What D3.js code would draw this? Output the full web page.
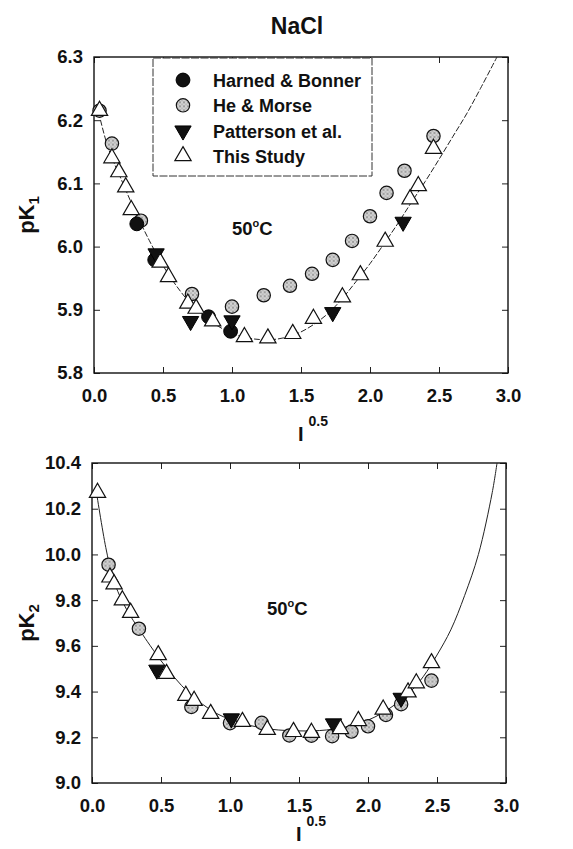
<!DOCTYPE html>
<html><head><meta charset="utf-8">
<script src="https://cdn.jsdelivr.net/npm/d3@7/dist/d3.min.js"></script>
<style>
html,body{margin:0;padding:0;background:#fff;}
text{font-family:"Liberation Sans",Arial,Helvetica,sans-serif;font-weight:bold;fill:#111;}
</style></head>
<body>
<script>
// ---------- data ----------
const xTicks = [0.0, 0.5, 1.0, 1.5, 2.0, 2.5, 3.0];
const yTicks1 = [5.8, 5.9, 6.0, 6.1, 6.2, 6.3];
const yTicks2 = [9.0, 9.2, 9.4, 9.6, 9.8, 10.0, 10.2, 10.4];
const legendLabels = ["Harned & Bonner", "He & Morse", "Patterson et al.", "This Study"];

// pK1 panel
const pk1HarnedBonner = [[0.31,6.036],[0.44,5.979],[0.83,5.889],[0.99,5.866]];
const pk1HeMorse = [[0.04,6.215],[0.13,6.163],[0.34,6.041],[0.71,5.925],[1.0,5.905],[1.23,5.923],[1.42,5.938],[1.58,5.957],[1.73,5.979],[1.87,6.009],[2.0,6.048],[2.12,6.085],[2.25,6.12],[2.46,6.175]];
const pk1Patterson = [[0.45,5.989],[0.70,5.882],[1.0,5.883],[1.73,5.896],[2.24,6.039]];
const pk1ThisStudy = [[0.04,6.215],[0.13,6.14],[0.18,6.118],[0.23,6.094],[0.27,6.058],[0.48,5.975],[0.54,5.952],[0.68,5.91],[0.74,5.902],[0.86,5.882],[1.09,5.857],[1.26,5.855],[1.44,5.862],[1.59,5.886],[1.80,5.92],[1.93,5.955],[2.11,6.008],[2.29,6.075],[2.35,6.096],[2.46,6.155]];
const pk1Fit = [[0.02,6.225],[0.1,6.158],[0.2,6.105],[0.3,6.055],[0.4,6.01],[0.5,5.97],[0.6,5.937],[0.7,5.91],[0.8,5.89],[0.9,5.874],[1.0,5.863],[1.1,5.856],[1.2,5.853],[1.3,5.853],[1.4,5.857],[1.5,5.865],[1.6,5.878],[1.7,5.895],[1.8,5.918],[1.9,5.945],[2.0,5.973],[2.1,6.004],[2.2,6.036],[2.3,6.07],[2.4,6.103],[2.5,6.138],[2.6,6.174],[2.7,6.21],[2.8,6.25],[2.92,6.3]];

// pK2 panel
const pk2HeMorse = [[0.12,9.955],[0.34,9.675],[0.72,9.333],[1.0,9.262],[1.23,9.263],[1.43,9.208],[1.59,9.207],[1.74,9.205],[1.88,9.225],[2.0,9.248],[2.13,9.298],[2.24,9.345],[2.46,9.448]];
const pk2Patterson = [[0.47,9.495],[1.01,9.282],[1.75,9.26],[2.24,9.372]];
const pk2ThisStudy = [[0.04,10.27],[0.13,9.9],[0.16,9.87],[0.22,9.8],[0.28,9.745],[0.48,9.56],[0.54,9.478],[0.68,9.382],[0.74,9.36],[0.86,9.303],[1.09,9.268],[1.27,9.233],[1.46,9.224],[1.59,9.22],[1.80,9.237],[1.93,9.272],[2.11,9.322],[2.29,9.397],[2.35,9.437],[2.46,9.525]];
const pk2Fit = [[0.03,10.28],[0.1,10.03],[0.15,9.9],[0.2,9.82],[0.25,9.76],[0.3,9.71],[0.35,9.665],[0.4,9.62],[0.5,9.535],[0.6,9.46],[0.7,9.395],[0.8,9.345],[0.9,9.305],[1.0,9.278],[1.1,9.258],[1.2,9.245],[1.3,9.235],[1.4,9.23],[1.5,9.228],[1.6,9.228],[1.7,9.232],[1.8,9.24],[1.9,9.255],[2.0,9.275],[2.1,9.305],[2.2,9.345],[2.3,9.395],[2.4,9.465],[2.5,9.56],[2.6,9.67],[2.7,9.82],[2.8,10.0],[2.9,10.27],[2.935,10.4]];

// ---------- drawing ----------
const W = 573, H = 849;
const svg = d3.select("body").append("svg").attr("width", W).attr("height", H);

const defs = svg.append("defs");
const pat = defs.append("pattern").attr("id","stip").attr("patternUnits","userSpaceOnUse")
  .attr("width",4).attr("height",4);
pat.append("rect").attr("width",4).attr("height",4).attr("fill","#d2d2d2");
pat.append("circle").attr("cx",1).attr("cy",1).attr("r",0.7).attr("fill","#444");
pat.append("circle").attr("cx",3).attr("cy",3).attr("r",0.6).attr("fill","#777");

const triUp = d3.symbol().type(d3.symbolTriangle).size(115)();
const fmt = d3.format(".1f");

function drawMarkers(g, data, kind, x, y){
  const sel = g.append("g").selectAll("path").data(data).join("path")
    .attr("transform", d => `translate(${x(d[0])},${y(d[1])})`);
  if (kind === "hb") {
    sel.attr("d", d3.symbol().type(d3.symbolCircle).size(150)()).attr("fill","#111").attr("stroke","#000").attr("stroke-width",1);
  } else if (kind === "hm") {
    sel.attr("d", d3.symbol().type(d3.symbolCircle).size(140)()).attr("fill","url(#stip)").attr("stroke","#111").attr("stroke-width",1.2);
  } else if (kind === "pat") {
    sel.attr("d", triUp).attr("transform", d => `translate(${x(d[0])},${y(d[1])}) rotate(180)`)
      .attr("fill","#111").attr("stroke","#000").attr("stroke-width",1);
  } else {
    sel.attr("d", triUp).attr("fill","#fff").attr("stroke","#111").attr("stroke-width",1.2);
  }
}

function panel(opts){
  const {left, right, top, bottom, yDomain, yTicks, series, fit, dashed, sub, tempPos, xlabY} = opts;
  const x = d3.scaleLinear().domain([0,3]).range([left,right]);
  const y = d3.scaleLinear().domain(yDomain).range([bottom,top]);
  const g = svg.append("g");

  // axes with inward ticks
  const ax = g.append("g").attr("transform",`translate(${left},0)`)
    .call(d3.axisLeft(y).tickValues(yTicks).tickSize(-6).tickPadding(11).tickFormat(fmt));
  ax.selectAll("text").attr("font-size",18.5).attr("font-weight","bold").attr("fill","#111");
  const bx = g.append("g").attr("transform",`translate(0,${bottom})`)
    .call(d3.axisBottom(x).tickValues(xTicks).tickSize(-6).tickPadding(16).tickFormat(fmt));
  bx.selectAll("text").attr("font-size",18.5).attr("font-weight","bold").attr("fill","#111");
  g.append("g").attr("transform",`translate(${right},0)`)
    .call(d3.axisRight(y).tickValues(yTicks).tickSize(-6).tickFormat(""));
  g.append("g").attr("transform",`translate(0,${top})`)
    .call(d3.axisTop(x).tickValues(xTicks).tickSize(-6).tickFormat(""));
  g.selectAll(".domain").remove();
  g.selectAll(".tick line").attr("stroke","#222").attr("stroke-width",1);
  g.append("rect").attr("x",left).attr("y",top).attr("width",right-left).attr("height",bottom-top)
    .attr("fill","none").attr("stroke","#111").attr("stroke-width",1.4);

  // fitted line
  const line = d3.line().x(d=>x(d[0])).y(d=>y(d[1])).curve(d3.curveCatmullRom);
  g.append("path").attr("d", line(fit)).attr("fill","none").attr("stroke","#222")
    .attr("stroke-width",1).attr("stroke-dasharray", dashed ? "6,2" : null);

  series.forEach(s => drawMarkers(g, s.data, s.kind, x, y));

  // y label
  const ylab = g.append("text").attr("transform",`translate(34,${(top+bottom)/2}) rotate(-90)`)
    .attr("text-anchor","middle").attr("font-size",22);
  ylab.append("tspan").text("pK");
  ylab.append("tspan").attr("font-size",15).attr("dy",5).text(sub);

  // x label I^0.5
  const xl = g.append("text").attr("x",(left+right)/2 - 3).attr("y",xlabY).attr("font-size",20);
  xl.append("tspan").text("I");
  xl.append("tspan").attr("font-size",14).attr("dx",5).attr("dy",-15).text("0.5");

  // temperature
  const t = g.append("text").attr("x",tempPos[0]).attr("y",tempPos[1]).attr("font-size",18.5);
  t.append("tspan").text("50");
  t.append("tspan").attr("font-size",11).attr("dy",-8).text("o");
  t.append("tspan").attr("dy",8).text("C");
  return {x,y,g};
}

// title
svg.append("text").attr("x",297).attr("y",34).attr("text-anchor","middle").attr("font-size",23).text("NaCl");

panel({left:94,right:508,top:57,bottom:373,yDomain:[5.8,6.3],yTicks:yTicks1,
  series:[{data:pk1HeMorse,kind:"hm"},{data:pk1HarnedBonner,kind:"hb"},{data:pk1Patterson,kind:"pat"},{data:pk1ThisStudy,kind:"ts"}],
  fit:pk1Fit,dashed:true,sub:"1",tempPos:[232,235],xlabY:441});

panel({left:92,right:506,top:463,bottom:783,yDomain:[9.0,10.4],yTicks:yTicks2,
  series:[{data:pk2HeMorse,kind:"hm"},{data:pk2Patterson,kind:"pat"},{data:pk2ThisStudy,kind:"ts"}],
  fit:pk2Fit,dashed:false,sub:"2",tempPos:[267,615],xlabY:841});

// legend
const lg = svg.append("g");
lg.append("rect").attr("x",153).attr("y",58).attr("width",219).attr("height",118)
  .attr("fill","#fff").attr("stroke","#333").attr("stroke-width",1).attr("stroke-dasharray","8,1.5");
const kinds = ["hb","hm","pat","ts"];
const lgY = d3.scalePoint().domain(legendLabels).range([80,156]);
legendLabels.forEach((lab,i) => {
  const cy = lgY(lab);
  drawMarkers(lg, [[0,0]], kinds[i], () => 183, () => cy);
  lg.append("text").attr("x",213).attr("y",cy+7).attr("font-size",18).text(lab);
});
</script>
</body></html>
